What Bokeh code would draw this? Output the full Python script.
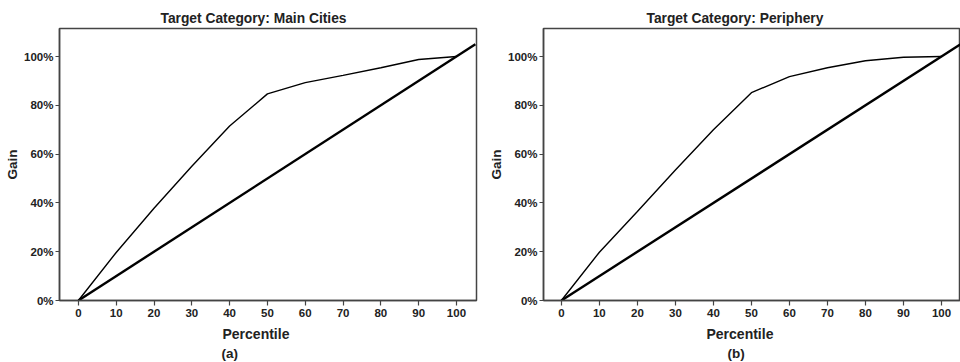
from bokeh.plotting import figure
from bokeh.layouts import row
from bokeh.models import Range1d, FixedTicker, Title
from bokeh.embed import file_html
from bokeh.resources import INLINE

percentile = [0, 10, 20, 30, 40, 50, 60, 70, 80, 90, 100]
gain_main = [0, 19.7, 37.8, 55, 71.5, 84.7, 89.3, 92.3, 95.4, 98.8, 100]
gain_periphery = [0, 19.8, 36.5, 53.5, 70, 85.2, 91.8, 95.4, 98.3, 99.7, 100]
baseline_x = [0, 105]
baseline_y = [0, 105]
x_ticks = [0, 10, 20, 30, 40, 50, 60, 70, 80, 90, 100]
y_ticks = [0, 20, 40, 60, 80, 100]
y_tick_labels = ["0%", "20%", "40%", "60%", "80%", "100%"]

FONT = "Liberation Sans"
INK = "#222222"


def make_panel(title, gain, letter, x_start, x_end, border_left, border_right,
               y_end, width, title_off, xlab_off, letter_off):
    p = figure(width=width, height=362, output_backend="svg", toolbar_location=None,
               x_range=Range1d(x_start, x_end), y_range=Range1d(0, y_end),
               min_border_left=border_left, min_border_right=border_right,
               min_border_top=28, min_border_bottom=62)
    p.title.text = title
    p.title.align = "left"
    p.title.offset = title_off
    p.title.text_font = FONT
    p.title.text_font_style = "bold"
    p.title.text_font_size = "13.8px"
    p.title.text_color = INK
    p.title.standoff = 5

    p.line(percentile, gain, line_color="black", line_width=1.4)
    p.line(baseline_x, baseline_y, line_color="black", line_width=2.4)

    p.grid.visible = False
    p.outline_line_color = "#444444"
    p.outline_line_width = 1.5
    p.background_fill_color = "white"
    p.border_fill_color = "white"

    p.xaxis.ticker = FixedTicker(ticks=x_ticks)
    p.yaxis.ticker = FixedTicker(ticks=y_ticks)
    p.yaxis.major_label_overrides = {t: l for t, l in zip(y_ticks, y_tick_labels)}
    for ax in (p.xaxis, p.yaxis):
        ax.axis_line_color = "#444444"
        ax.axis_line_width = 1.5
        ax.major_tick_line_color = "#444444"
        ax.major_tick_line_width = 1.2
        ax.major_tick_in = 0
        ax.minor_tick_line_color = None
        ax.major_label_text_font = FONT
        ax.major_label_text_font_style = "bold"
        ax.major_label_text_font_size = "11.5px"
        ax.major_label_text_color = INK
        ax.axis_label_text_font = FONT
        ax.axis_label_text_font_style = "bold"
        ax.axis_label_text_font_size = "13.5px"
        ax.axis_label_text_color = INK
    p.xaxis.major_tick_out = 5
    p.yaxis.major_tick_out = 4
    p.xaxis.major_label_standoff = 3
    p.yaxis.major_label_standoff = 2
    p.yaxis.axis_label = "Gain"
    p.yaxis.axis_label_standoff = 1

    xlab = Title(text="Percentile", align="left", offset=xlab_off, text_font=FONT,
                 text_font_style="bold", text_font_size="14px", text_color=INK,
                 standoff=9)
    p.add_layout(xlab, "below")
    sub = Title(text=letter, align="left", offset=letter_off, text_font=FONT,
                text_font_style="bold", text_font_size="13.5px", text_color=INK,
                standoff=-6)
    p.add_layout(sub, "below")
    return p


left = make_panel("Target Category: Main Cities", gain_main, "(a)",
                  -5.0, 105.3, 59, 4, 111.5, 480, 101, 163, 162)
right = make_panel("Target Category: Periphery", gain_periphery, "(b)",
                   -4.7, 105.0, 63, 0, 111.5, 480, 103, 163, 184)

layout = row(left, right, spacing=0)
open("out.html", "w").write(file_html(layout, INLINE))
